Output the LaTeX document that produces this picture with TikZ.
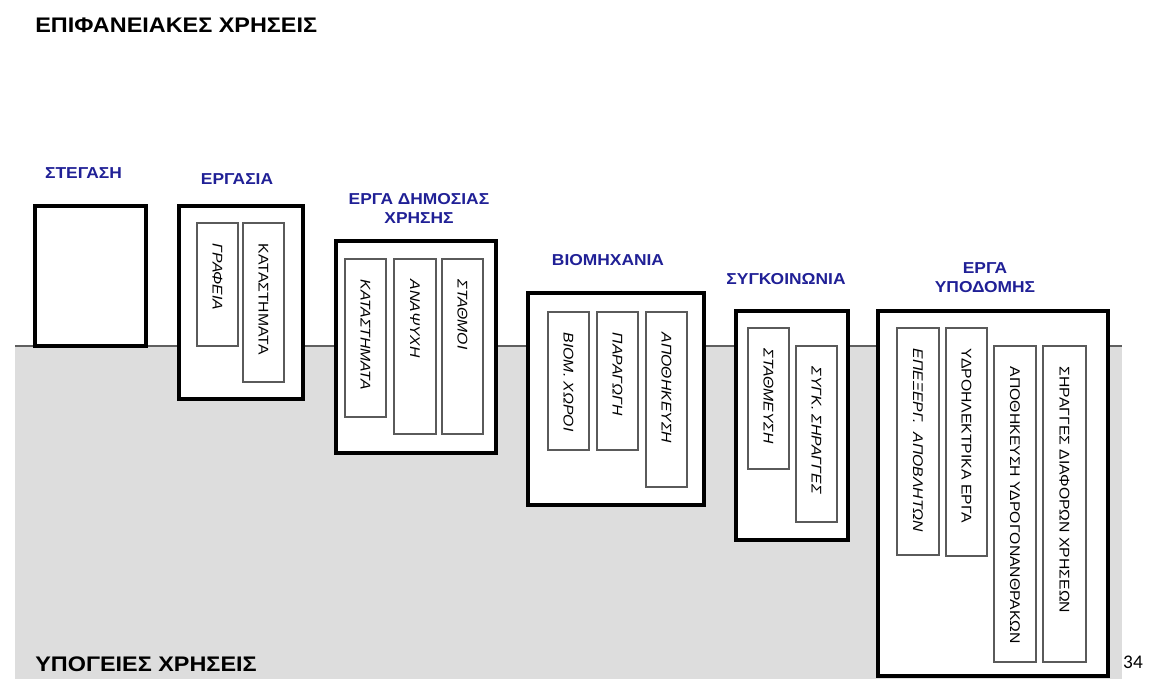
\documentclass[tikz,border=0pt]{standalone}
\usepackage{fontspec}
\setmainfont{Liberation Sans}
\newfontfamily\pagefont{Carlito}
\usetikzlibrary{fit,calc,positioning}
\definecolor{groundGray}{RGB}{221,221,221}
\definecolor{groundLine}{RGB}{95,95,95}
\definecolor{labelBlue}{RGB}{32,32,150}
\definecolor{slotGray}{RGB}{90,90,90}
\tikzset{
  useBox/.style={draw=black,line width=1.8pt,fill=white,inner sep=0pt},
  slotBox/.style={draw=slotGray,line width=0.6pt,fill=white,inner sep=0pt},
  slotText/.style={rotate=-90,anchor=west,inner sep=0pt,
    font=\fontsize{8}{9}\selectfont\addfontfeature{FakeStretch=1.12}},
  useLabel/.style={text=labelBlue,align=center,inner sep=0pt,
    font=\bfseries\fontsize{9}{10.5}\selectfont\addfontfeature{FakeStretch=1.1}},
  sideLabel/.style={anchor=west,inner sep=0pt,
    font=\bfseries\fontsize{12}{14}\selectfont\addfontfeature{FakeStretch=1.11}},
}

\begin{document}
\begin{tikzpicture}[x=0.02cm,y=-0.02cm]
\useasboundingbox (0,0) rectangle (1150,679);

% ===== Ground level =====
\fill[groundGray] (15,346) rectangle (1122,679);
\coordinate (gL) at (15,346);
\coordinate (gR) at (1122,346);
\draw[groundLine,line width=0.8pt] (gL) -- (gR);

\node[sideLabel] (surface) at (35,25) {ΕΠΙΦΑΝΕΙΑΚΕΣ ΧΡΗΣΕΙΣ};
\node[sideLabel] (under) at (35,664) {ΥΠΟΓΕΙΕΣ ΧΡΗΣΕΙΣ};
\node[font=\pagefont\fontsize{11}{13}\selectfont,inner sep=0pt] (pageNo) at (1133,662) {34};

% ===== Use groups =====
\node[useBox, fit={(35,206) (146,346)}] (housing) {};
\node[useBox, fit={(179,206) (303,399)}] (work) {};
\node[useBox, fit={(336,241) (496,453)}] (public) {};
\node[useBox, fit={(528,293) (704,505)}] (industry) {};
\node[useBox, fit={(736,311) (848,540)}] (transport) {};
\node[useBox, fit={(878,311) (1108,676)}] (infra) {};

\node[useLabel] (housingL) at ($(housing.north)+(-7,-31)$) {ΣΤΕΓΑΣΗ};
\node[useLabel] (workL) at ($(work.north)+(-4,-25)$) {ΕΡΓΑΣΙΑ};
\node[useLabel] (publicL) at ($(public.north)+(3,-31)$) {ΕΡΓΑ ΔΗΜΟΣΙΑΣ\\ΧΡΗΣΗΣ};
\node[useLabel] (industryL) at ($(industry.north)+(-8,-31)$) {ΒΙΟΜΗΧΑΝΙΑ};
\node[useLabel] (transportL) at ($(transport.north)+(-6,-30)$) {ΣΥΓΚΟΙΝΩΝΙΑ};
\node[useLabel] (infraL) at ($(infra.north)+(-8,-32)$) {ΕΡΓΑ\\ΥΠΟΔΟΜΗΣ};

% ===== Sub-uses (rotated) =====
\foreach \n/\xa/\ya/\xb/\yb/\sh/\txt in {
  workA/197/223/238/346/\itshape/ΓΡΑΦΕΙΑ,
  workB/243/223/284/382/\upshape/ΚΑΤΑΣΤΗΜΑΤΑ,
  publicA/345/259/386/417/\itshape/ΚΑΤΑΣΤΗΜΑΤΑ,
  publicB/394/259/436/434/\itshape/ΑΝΑΨΥΧΗ,
  publicC/442/259/483/434/\itshape/ΣΤΑΘΜΟΙ,
  industryA/548/312/589/450/\itshape/ΒΙΟΜ. ΧΩΡΟΙ,
  industryB/597/312/638/450/\itshape/ΠΑΡΑΓΩΓΗ,
  industryC/646/312/687/487/\itshape/ΑΠΟΘΗΚΕΥΣΗ,
  transportA/748/328/789/469/\itshape/ΣΤΑΘΜΕΥΣΗ,
  transportB/796/346/837/522/\itshape/ΣΥΓΚ. ΣΗΡΑΓΓΕΣ,
  infraA/897/328/939/555/\itshape/ΕΠΕΞΕΡΓ.\ \ ΑΠΟΒΛΗΤΩΝ,
  infraB/946/328/987/556/\upshape/ΥΔΡΟΗΛΕΚΤΡΙΚΑ ΕΡΓΑ,
  infraC/994/346/1036/662/\upshape/ΑΠΟΘΗΚΕΥΣΗ ΥΔΡΟΓΟΝΑΝΘΡΑΚΩΝ,
  infraD/1043/346/1086/662/\upshape/ΣΗΡΑΓΓΕΣ ΔΙΑΦΟΡΩΝ ΧΡΗΣΕΩΝ}
{
  \node[slotBox, fit={(\xa,\ya) (\xb,\yb)}] (\n) {};
  \node[slotText] (\n-t) at ([yshift=-0.42cm]\n.north) {\sh\txt};
}

\end{tikzpicture}
\end{document}
